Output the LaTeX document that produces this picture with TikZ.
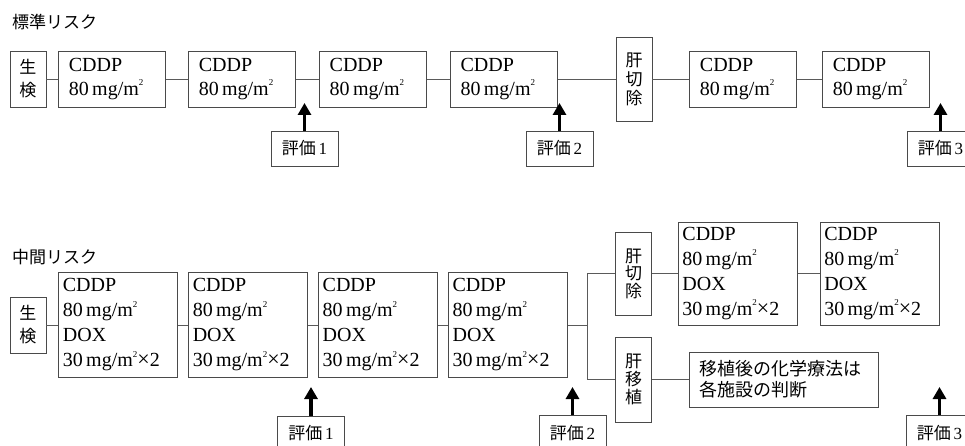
\documentclass[tikz,border=0pt]{standalone}
\usepackage{fontspec}
\setmainfont{Liberation Serif}
\newfontfamily\jpfont{Noto Sans CJK JP}
\usepackage{tikz}
\usetikzlibrary{positioning, arrows.meta}
\usepackage{xcolor}
\definecolor{BoxLine}{HTML}{4a4a4a}
\definecolor{LinkLine}{HTML}{5a5a5a}
\tikzset{
  cddpbox/.style={draw=BoxLine, line width=0.9pt, inner xsep=10pt, inner ysep=0pt,
    text width=87pt, minimum height=56pt, align=left, font=\fontsize{20}{24}\selectfont},
  doxbox/.style={draw=BoxLine, line width=0.9pt, inner xsep=4pt, inner ysep=0pt,
    text width=111pt, minimum height=105pt, align=left, font=\fontsize{20}{25}\selectfont},
  vbox/.style={draw=BoxLine, line width=0.9pt, minimum width=36pt, inner sep=0pt,
    align=center, font=\jpfont\fontsize{17}{19}\selectfont},
  evalbox/.style={draw=BoxLine, line width=0.9pt, minimum width=67pt, minimum height=35pt,
    inner sep=0pt, font=\fontsize{17}{20}\selectfont},
  notebox/.style={draw=BoxLine, line width=0.9pt, inner xsep=10pt, inner ysep=0pt,
    text width=169pt, minimum height=55pt, align=left, font=\jpfont\fontsize{18}{21}\selectfont},
  risktitle/.style={anchor=west, inner sep=0pt, font=\jpfont\fontsize{17}{20}\selectfont},
  link/.style={draw=LinkLine, line width=0.9pt},
  evalarrow/.style={line width=3.5pt, -{Triangle[width=13pt,length=12pt]}},
}
\newcommand\sqr{\raisebox{1.05ex}{\fontsize{9}{9}\selectfont 2}}
\newcommand\cddptext{CDDP\\80\,mg/m\sqr}
\newcommand\doxtext{CDDP\\80\,mg/m\sqr\\DOX\\30\,mg/m\sqr{\fontsize{22}{22}\selectfont ×}2}
\newcommand\evaltext[1]{{\jpfont 評価}\,#1}

\begin{document}
\begin{tikzpicture}[x=1pt, y=-1pt]
  \useasboundingbox (0,0) rectangle (965,446);
  \clip (0,0) rectangle (965,446);

  % standard risk
  \node[risktitle] (stitle) at (12,22) {標準リスク};
  \node[vbox, minimum height=56pt, font=\jpfont\fontsize{17}{23}\selectfont] (sbio) at (28,79) {生\\検};
  \node[cddpbox, right=12pt of sbio] (s1) {\cddptext};
  \node[cddpbox, right=22pt of s1] (s2) {\cddptext};
  \node[cddpbox, right=23pt of s2] (s3) {\cddptext};
  \node[cddpbox, right=23pt of s3] (s4) {\cddptext};
  \node[vbox, minimum height=84pt] (scut) at (634,79) {肝\\切\\除};
  \node[cddpbox, right=37pt of scut] (s5) {\cddptext};
  \node[cddpbox, right=25pt of s5] (s6) {\cddptext};

  \draw[link] (sbio.east) -- (s1.west);
  \draw[link] (s1.east) -- (s2.west);
  \draw[link] (s2.east) -- (s3.west);
  \draw[link] (s3.east) -- (s4.west);
  \draw[link] (s4.east) -- (scut.west);
  \draw[link] (scut.east) -- (s5.west);
  \draw[link] (s5.east) -- (s6.west);

  \node[evalbox] (sev1) at (304.5,148.5) {\evaltext{1}};
  \node[evalbox] (sev2) at (559.5,148.5) {\evaltext{2}};
  \node[evalbox] (sev3) at (940.5,148.5) {\evaltext{3}};
  \coordinate (sev1tip) at (304.5,103);
  \coordinate (sev2tip) at (559.5,103);
  \coordinate (sev3tip) at (940.5,103);
  \draw[evalarrow] (sev1.north) -- (sev1tip);
  \draw[evalarrow] (sev2.north) -- (sev2tip);
  \draw[evalarrow] (sev3.north) -- (sev3tip);

  % intermediate risk
  \node[risktitle] (mtitle) at (12,257) {中間リスク};
  \node[vbox, minimum height=56pt, font=\jpfont\fontsize{17}{23}\selectfont] (mbio) at (28,325) {生\\検};
  \node[doxbox, right=12pt of mbio] (m1) {\doxtext};
  \node[doxbox, right=10pt of m1] (m2) {\doxtext};
  \node[doxbox, right=10pt of m2] (m3) {\doxtext};
  \node[doxbox, right=10pt of m3] (m4) {\doxtext};
  \node[vbox, minimum height=83pt, font=\jpfont\fontsize{17}{17.5}\selectfont] (mcut) at (633.5,273.5) {肝\\切\\除};
  \node[vbox, minimum height=85pt, font=\jpfont\fontsize{17}{18}\selectfont] (mtx) at (633.5,379.5) {肝\\移\\植};
  \node[doxbox, minimum height=103pt, right=26pt of mcut] (m5) {\doxtext};
  \node[doxbox, minimum height=103pt, right=22pt of m5] (m6) {\doxtext};
  \node[notebox, right=37pt of mtx] (mnote) {移植後の化学療法は\\各施設の判断};

  \draw[link] (mbio.east) -- (m1.west);
  \draw[link] (m1.east) -- (m2.west);
  \draw[link] (m2.east) -- (m3.west);
  \draw[link] (m3.east) -- (m4.west);
  \draw[link] (m4.east) -- ++(19,0) coordinate (fork);
  \draw[link] (fork) |- (mcut.west);
  \draw[link] (fork) |- (mtx.west);
  \draw[link] (mcut.east) -- (m5.west);
  \draw[link] (m5.east) -- (m6.west);
  \draw[link] (mtx.east) -- (mnote.west);

  \node[evalbox] (mev1) at (311,433.5) {\evaltext{1}};
  \node[evalbox] (mev2) at (572.5,433) {\evaltext{2}};
  \node[evalbox] (mev3) at (939.5,433) {\evaltext{3}};
  \coordinate (mev1tip) at (311,387);
  \coordinate (mev2tip) at (572.5,387);
  \coordinate (mev3tip) at (939.5,387);
  \draw[evalarrow] (mev1.north) -- (mev1tip);
  \draw[evalarrow] (mev2.north) -- (mev2tip);
  \draw[evalarrow] (mev3.north) -- (mev3tip);
\end{tikzpicture}
\end{document}
